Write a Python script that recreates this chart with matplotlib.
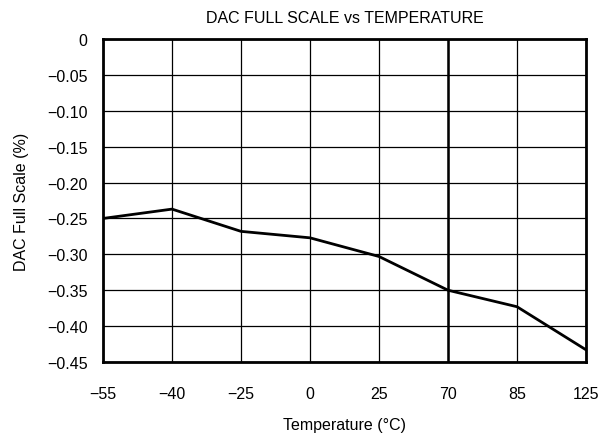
import matplotlib
matplotlib.use('Agg')
import matplotlib.pyplot as plt
import numpy as np

plt.rcParams['font.family'] = ['Liberation Sans', 'DejaVu Sans']

# temperatures are placed evenly along the axis, like categories
temps = ['\u221255', '\u221240', '\u221225', '0', '25', '70', '85', '125']
full_scale = [-0.250, -0.237, -0.268, -0.277, -0.303, -0.350, -0.373, -0.433]
y_ticks = [0, -0.05, -0.10, -0.15, -0.20, -0.25, -0.30, -0.35, -0.40, -0.45]
y_labels = ['0'] + ['\u2212%.2f' % abs(v) for v in y_ticks[1:]]

fig = plt.figure(figsize=(6.16, 4.39), dpi=100)
ax = fig.add_axes([103 / 616, 1 - 363 / 439, 483 / 616, 323 / 439])

x = np.arange(len(temps))
ax.plot(x, full_scale, color='black', lw=2, solid_joinstyle='round', zorder=3)

ax.set_xlim(0, len(temps) - 1)
ax.set_ylim(-0.45, 0)
ax.set_xticks(x)
ax.set_xticklabels(temps)
ax.set_yticks(y_ticks)
ax.set_yticklabels(y_labels)
ax.tick_params(axis='y', length=0, labelsize=11.5, pad=11)
ax.tick_params(axis='x', length=0, labelsize=11.5, pad=17)
ax.grid(True, color='black', lw=0.9)
# the 70 degree line is drawn heavier
ax.axvline(5, color='black', lw=1.8)

for s in ax.spines.values():
    s.set_linewidth(2)

ax.set_title('DAC FULL SCALE vs TEMPERATURE', fontsize=11.5, pad=12)
ax.set_xlabel('Temperature (\u00b0C)', fontsize=11.5, labelpad=12)
ax.set_ylabel('DAC Full Scale (%)', fontsize=11.5, labelpad=13)

fig.savefig('out.png', dpi=100)
